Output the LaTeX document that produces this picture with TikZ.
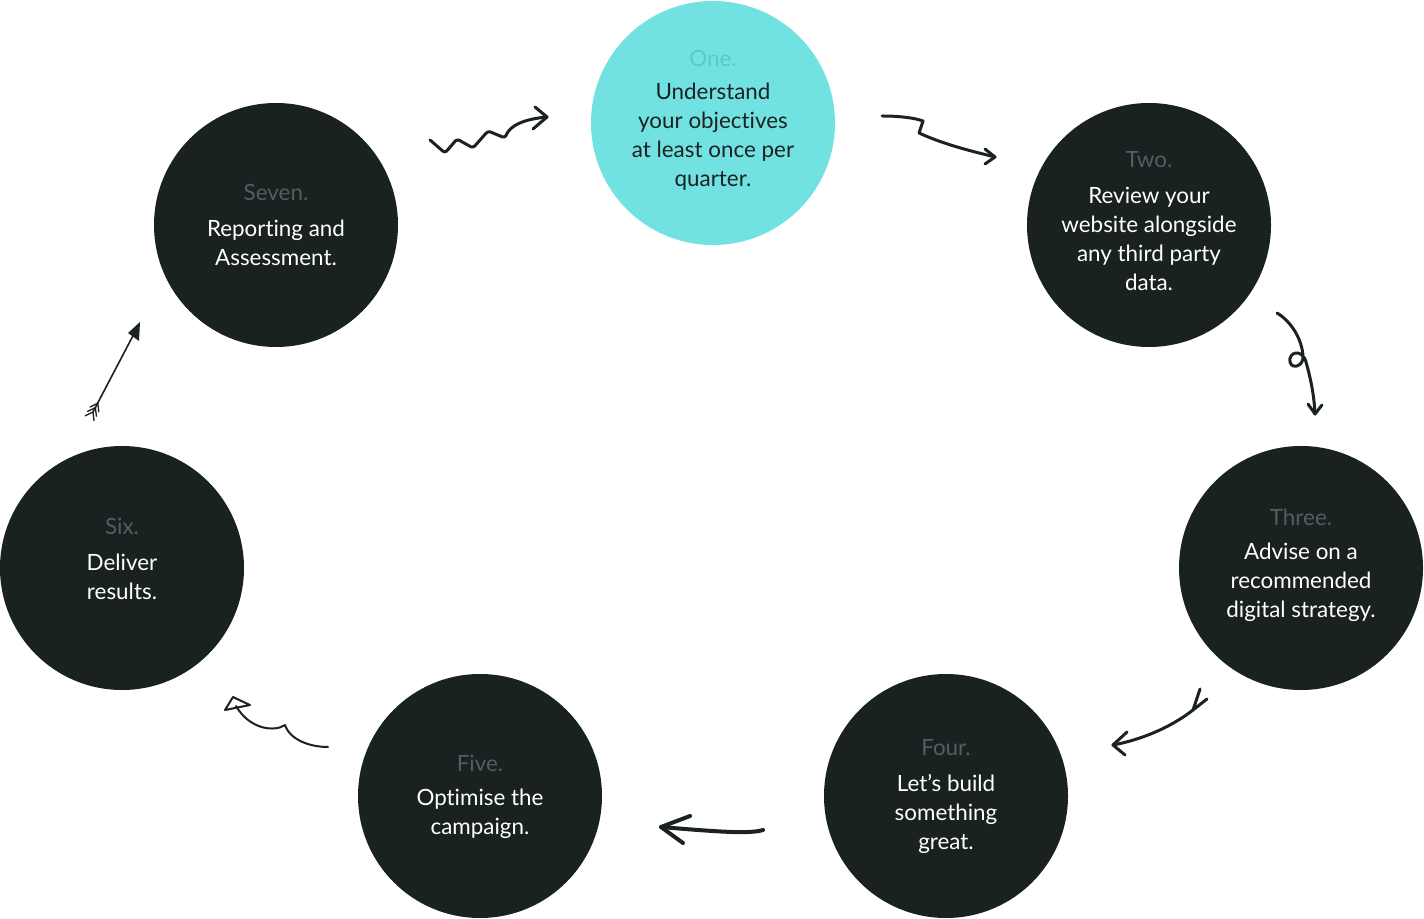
\documentclass[tikz,border=0pt]{standalone}
\usepackage{fontspec}
\setmainfont{Lato}[Ligatures=NoCommon]
\definecolor{cyanfill}{HTML}{72E1E1}
\definecolor{darkfill}{HTML}{192121}
\definecolor{cyanlab}{HTML}{5CC8C8}
\definecolor{darklab}{HTML}{525F5E}
\definecolor{inkc}{HTML}{1B2222}
\begin{document}
\begin{tikzpicture}[x=0.75pt,y=-0.75pt,
 stagecirc/.style={circle,minimum size=183pt,inner sep=0pt,draw=none},
 darkstage/.style={stagecirc,fill=darkfill},
 cyanstage/.style={stagecirc,fill=cyanfill},
 stagelab/.style={font=\fontsize{16.8}{18}\selectfont, inner sep=0pt},
 stagebody/.style={font=\fontsize{16.8}{21.75}\selectfont, align=center, inner sep=0pt},
 hand/.style={draw=inkc, line width=2.25pt, line cap=round, line join=round},
 thinhand/.style={draw=inkc, line width=1.5pt, line cap=round, line join=round},
]
\useasboundingbox (0,0) rectangle (1424,919);

% circles
\node[cyanstage] (one) at (713,123) {};
\node[darkstage] (two) at (1149,225) {};
\node[darkstage] (three) at (1301,568) {};
\node[darkstage] (four) at (946,796) {};
\node[darkstage] (five) at (480,796) {};
\node[darkstage] (six) at (122,568) {};
\node[darkstage] (seven) at (276,225) {};

% labels
\node[stagelab,text=cyanlab] (onel) at (713,58) {One.};
\node[stagebody,text=inkc] (oneb) at (713,137) {Understand\\your objectives\\at least once per\\quarter.};
\node[stagelab,text=darklab] (twol) at (1149,160) {Two.};
\node[stagebody,text=white] (twob) at (1149,239) {Review your\\website alongside\\any third party\\data.};
\node[stagelab,text=darklab] (threel) at (1301,517) {Three.};
\node[stagebody,text=white] (threeb) at (1301,582.5) {Advise on a\\recommended\\digital strategy.};
\node[stagelab,text=darklab] (fourl) at (946,748) {Four.};
\node[stagebody,text=white] (fourb) at (946,813.5) {Let’s build\\something\\great.};
\node[stagelab,text=darklab] (fivel) at (480,763) {Five.};
\node[stagebody,text=white] (fiveb) at (480,814) {Optimise the\\campaign.};
\node[stagelab,text=darklab] (sixl) at (122,526) {Six.};
\node[stagebody,text=white] (sixb) at (122,577) {Deliver\\results.};
\node[stagelab,text=darklab] (sevenl) at (276,192) {Seven.};
\node[stagebody,text=white] (sevenb) at (276,243) {Reporting and\\Assessment.};

% arrow 1: seven -> one
\coordinate (a1s) at (430,140);
\coordinate (a1t) at (547,117);
\draw[hand,rounded corners=2pt] (a1s) -- (445,153) -- (457,139) -- (473,148) -- (488,131) -- (505,138) .. controls (510,125) and (525,119) .. (a1t);
\draw[hand] (535,107) -- (a1t) -- (533,129);

% arrow 2: one -> two
\coordinate (a2s) at (882,116);
\coordinate (a2t) at (995,157);
\draw[hand] (a2s) .. controls (900,116) and (915,118) .. (923,121) -- (919,133) .. controls (945,145) and (975,152) .. (a2t);
\draw[hand] (985,149) -- (a2t) -- (985,164);

% arrow 3: two -> three
\coordinate (a3s) at (1277,313);
\coordinate (a3t) at (1315,414);
\draw[hand] (a3s) .. controls (1292,322) and (1302,340) .. (1303,356) .. controls (1304,366) and (1292,370) .. (1290,362) .. controls (1288,352) and (1302,348) .. (1306,362) .. controls (1311,380) and (1314,395) .. (a3t);
\draw[hand] (1308,404) -- (a3t) -- (1322,405);

% arrow 4: three -> four
\coordinate (a4s) at (1193,710);
\coordinate (a4t) at (1113,745);
\draw[hand] (1200,689) -- (a4s) -- (1207,699);
\draw[hand] (a4s) .. controls (1170,728) and (1140,740) .. (a4t);
\draw[hand] (1127,732) -- (a4t) -- (1125,755);

% arrow 5: four -> five
\coordinate (a5s) at (763,830);
\coordinate (a5t) at (661,827);
\draw[hand,line width=3pt] (a5s) .. controls (750,834) and (720,832) .. (a5t);
\draw[hand,line width=3pt] (690,816) -- (a5t) -- (683,843);

% arrow 6: five -> six
\coordinate (a6s) at (328,747);
\coordinate (a6t) at (236,706);
\draw[thinhand] (a6s) .. controls (310,747) and (290,740) .. (285,725) .. controls (275,732) and (250,730) .. (a6t);
\draw[thinhand] (233,697) -- (225,710) -- (250,705) -- cycle;

% arrow 7: six -> seven
\coordinate (a7s) at (93,412);
\coordinate (a7t) at (140,322);
\draw[draw=inkc,line width=1.2pt,line cap=round] (a7s) -- (136,330);
\fill[inkc] (a7t) -- (128,333) -- (139,341) -- cycle;
\foreach \px/\py in {93/412, 95.4/407.6, 97.8/403.2}{
  \draw[draw=inkc,line width=1pt,line cap=round] (\px-7.8,\py+3.8) -- (\px,\py) -- (\px+1,\py+8.6);
}
\end{tikzpicture}
\end{document}
